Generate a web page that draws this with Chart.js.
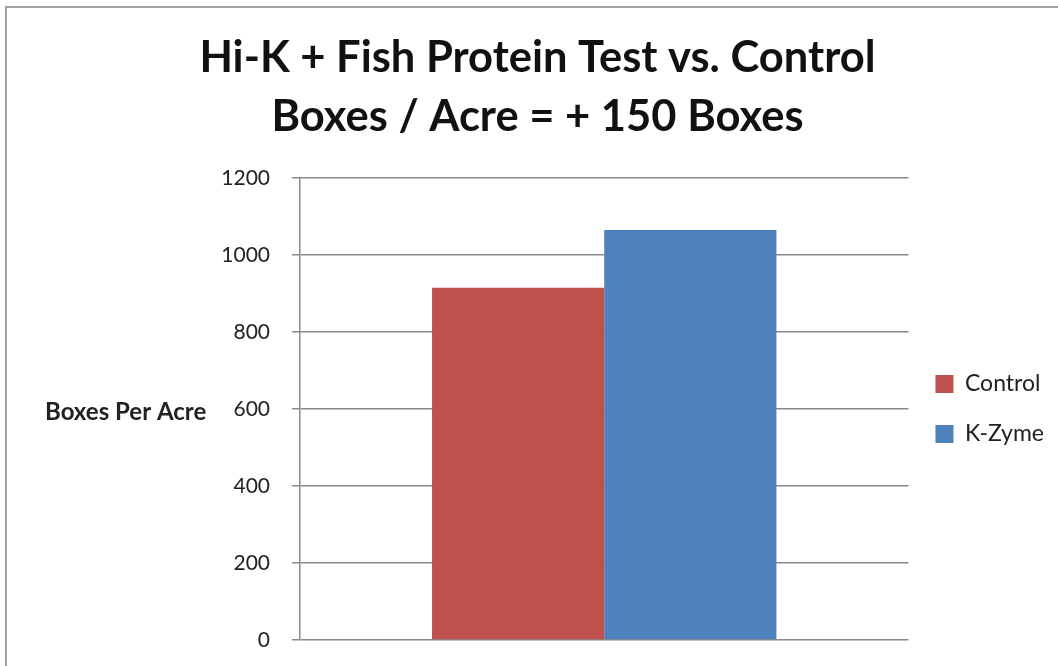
<!DOCTYPE html>
<html>
<head>
<meta charset="utf-8">
<script src="https://cdn.jsdelivr.net/npm/chart.js@4.4.1/dist/chart.umd.min.js"></script>
<style>
  body { margin: 0; background: #fff; }
  #wrap { position: relative; width: 1058px; height: 666px; }
  #frame { position: absolute; left: 5px; top: 6px; right: -2px; bottom: -2px;
           border-left: 2px solid #a0a0a0; border-top: 2px solid #a0a0a0; pointer-events: none; }
</style>
</head>
<body>
<div id="wrap">
  <canvas id="chart" width="1058" height="666"></canvas>
  <div id="frame"></div>
</div>
<script>
// данные графика
const categories = [''];
const seriesNames = ['Control', 'K-Zyme'];
const controlValues = [915];
const kzymeValues = [1065];
const yTicks = [0, 200, 400, 600, 800, 1000, 1200];
const titleLines = ['Hi-K + Fish Protein Test vs. Control', 'Boxes / Acre = + 150 Boxes'];
const yAxisLabel = 'Boxes Per Acre';

const FONT = 'Lato, "Open Sans", sans-serif';

// горизонтальная подпись оси Y (как в Excel)
const yLabelPlugin = {
    id: 'yLabel',
    afterDraw(chart) {
        const { ctx, chartArea } = chart;
        ctx.save();
        ctx.font = 'bold 24px ' + FONT;
        ctx.fillStyle = '#222';
        ctx.textAlign = 'left';
        ctx.textBaseline = 'middle';
        ctx.fillText(yAxisLabel, 45, (chartArea.top + chartArea.bottom) / 2 + 3);
        ctx.restore();
    }
};

const ctx = document.getElementById('chart').getContext('2d');
new Chart(ctx, {
    type: 'bar',
    data: {
        labels: categories,
        datasets: [
            {
                label: seriesNames[0],
                data: controlValues,
                backgroundColor: '#C0504D',
                borderWidth: 0
            },
            {
                label: seriesNames[1],
                data: kzymeValues,
                backgroundColor: '#4F81BD',
                borderWidth: 0
            }
        ]
    },
    options: {
        responsive: false,
        animation: false,
        layout: { padding: { left: 21, right: 4, top: 0, bottom: 26 } },
        datasets: {
            bar: { barPercentage: 1.0, categoryPercentage: 0.566 }
        },
        scales: {
            x: { display: false },
            y: {
                min: 0,
                max: 1200,
                afterBuildTicks: (scale) => { scale.ticks = yTicks.map(v => ({ value: v })); },
                afterFit: (scale) => {
                    scale.width = 279;
                    // большой отступ подписей не должен съедать высоту снизу
                    scale.paddingBottom = 12;
                    scale.paddingTop = 12;
                },
                border: { color: '#8a8a8a', width: 1.5 },
                grid: { color: '#8a8a8a', lineWidth: 1.5, tickLength: 8 },
                ticks: {
                    color: '#222',
                    padding: 22,
                    font: { family: FONT, size: 21 },
                    callback: (v) => String(v)
                }
            }
        },
        plugins: {
            title: {
                display: true,
                text: titleLines,
                color: '#111',
                font: { family: FONT, size: 43.5, weight: 'bold', lineHeight: 1.356 },
                padding: { top: 28.5, bottom: 31.5 }
            },
            legend: {
                position: 'right',
                align: 'center',
                fullSize: false,
                maxWidth: 150,
                labels: {
                    boxWidth: 18,
                    boxHeight: 18,
                    padding: 27,
                    color: '#222',
                    font: { family: FONT, size: 23 }
                }
            },
            tooltip: { enabled: false }
        }
    },
    plugins: [yLabelPlugin]
});
</script>
</body>
</html>
